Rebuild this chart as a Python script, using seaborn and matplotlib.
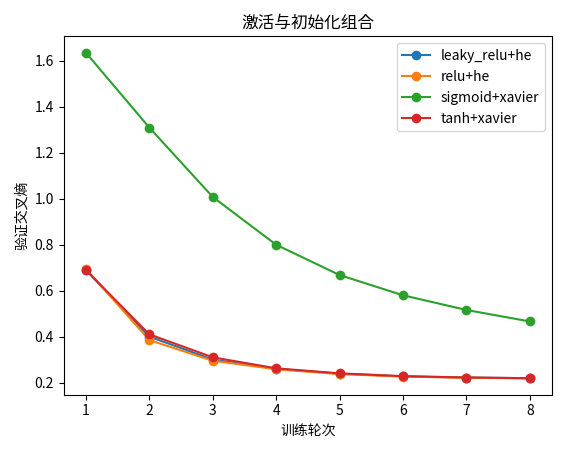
import numpy as np
import pandas as pd
import matplotlib
matplotlib.use('Agg')
import matplotlib.pyplot as plt
import seaborn as sns

plt.rcParams['font.family'] = ['Noto Sans CJK JP', 'DejaVu Sans']

epochs = [1, 2, 3, 4, 5, 6, 7, 8]
leaky_relu_he = [0.69, 0.40, 0.300, 0.260, 0.239, 0.227, 0.222, 0.219]
relu_he = [0.695, 0.385, 0.295, 0.258, 0.237, 0.226, 0.221, 0.218]
sigmoid_xavier = [1.636, 1.31, 1.008, 0.80, 0.668, 0.58, 0.516, 0.466]
tanh_xavier = [0.69, 0.41, 0.31, 0.262, 0.240, 0.228, 0.222, 0.219]

series = {
    'leaky_relu+he': leaky_relu_he,
    'relu+he': relu_he,
    'sigmoid+xavier': sigmoid_xavier,
    'tanh+xavier': tanh_xavier,
}
df = pd.concat([pd.DataFrame({'epoch': epochs, 'loss': v, 'combo': k})
                for k, v in series.items()])

fig, ax = plt.subplots(figsize=(5.67, 4.53), dpi=100)
sns.lineplot(data=df, x='epoch', y='loss', hue='combo', marker='o',
             markersize=7, markeredgewidth=0, palette='tab10', ax=ax)
ax.set_title('激活与初始化组合')
ax.set_xlabel('训练轮次')
ax.set_ylabel('验证交叉熵')
ax.legend(title=None, loc='upper right')
fig.tight_layout()
fig.savefig('out.png')
